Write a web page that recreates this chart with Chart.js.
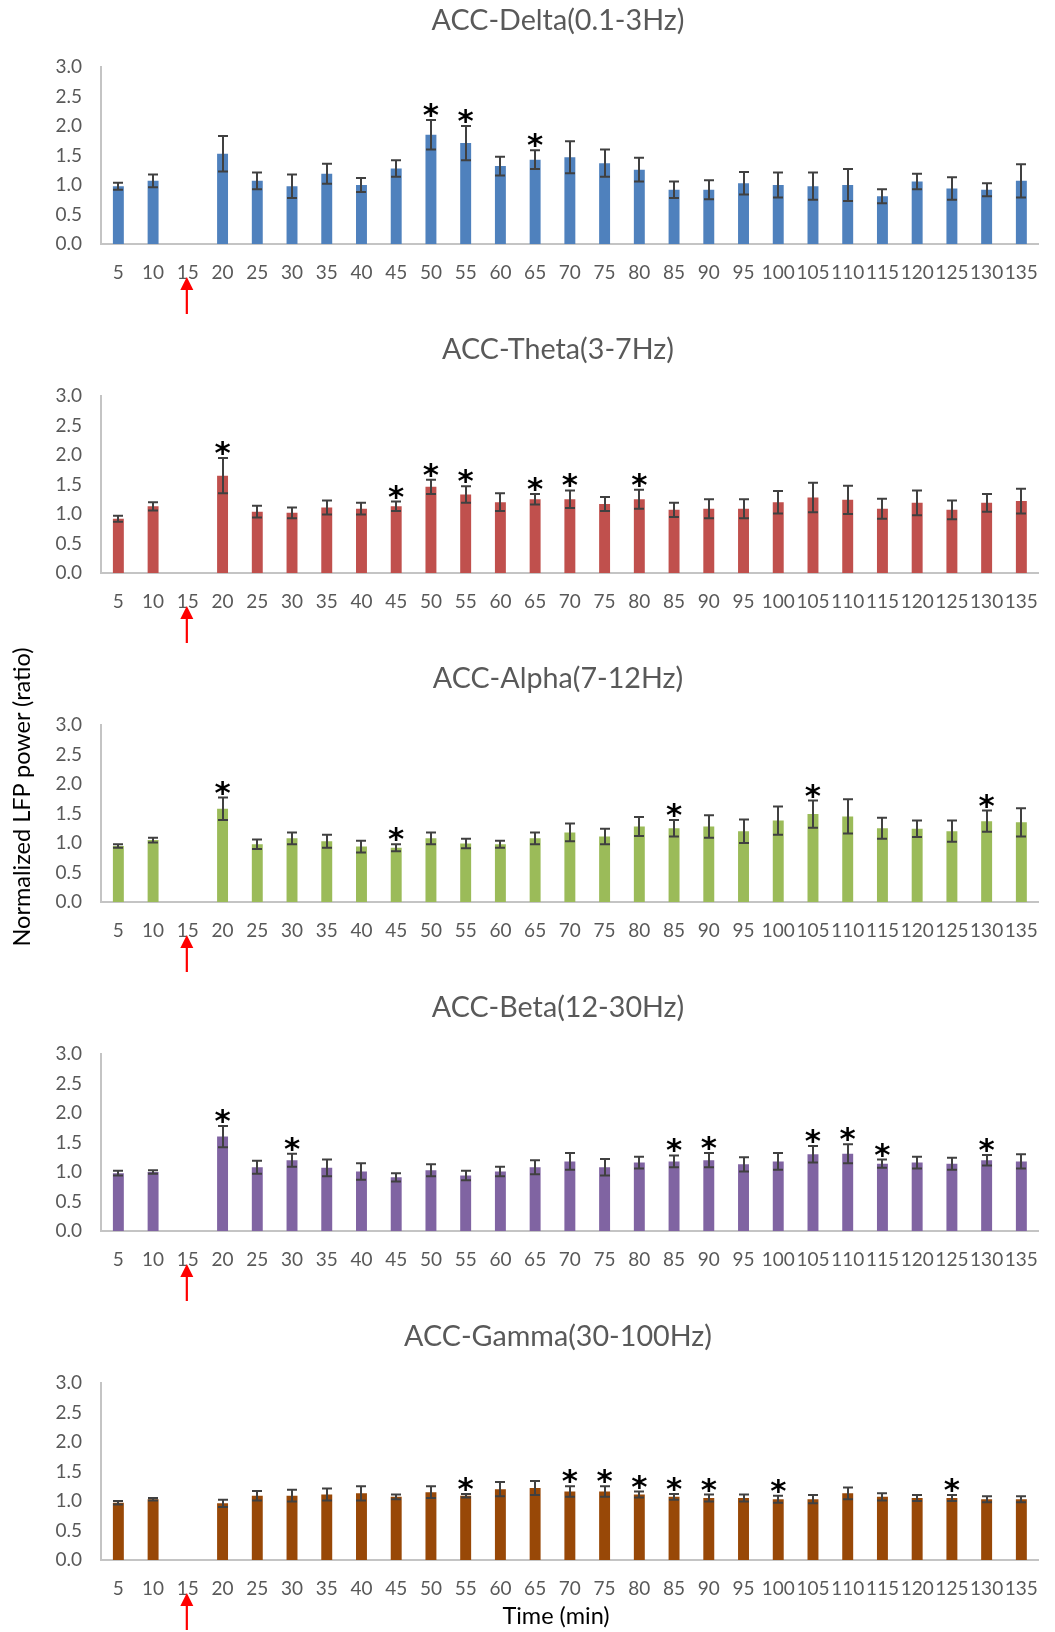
<!DOCTYPE html>
<html>
<head>
<meta charset="utf-8">
<script src="https://cdn.jsdelivr.net/npm/chart.js@4.4.1/dist/chart.umd.min.js"></script>
<style>
  html, body { margin:0; padding:0; background:#fff; width:1055px; height:1632px; overflow:hidden; }
  .panel { position:absolute; left:0; width:1055px; height:316px; }
  #ylab { position:absolute; left:-179px; top:785px; width:400px; height:24px; line-height:24px;
          text-align:center; transform:rotate(-90deg); font-family:Lato, sans-serif; font-size:23.5px;
          color:#000; white-space:nowrap; z-index:5; }
  #xlab { position:absolute; left:406px; top:1601px; width:300px; height:28px; line-height:28px;
          text-align:center; font-family:Lato, sans-serif; font-size:23.5px; color:#000;
          white-space:nowrap; z-index:5; }
</style>
</head>
<body>
<div class="panel" style="top:0px"><canvas id="c0" width="1055" height="316"></canvas></div>
<div class="panel" style="top:329px"><canvas id="c1" width="1055" height="316"></canvas></div>
<div class="panel" style="top:658px"><canvas id="c2" width="1055" height="316"></canvas></div>
<div class="panel" style="top:987px"><canvas id="c3" width="1055" height="316"></canvas></div>
<div class="panel" style="top:1316px"><canvas id="c4" width="1055" height="316"></canvas></div>
<div id="ylab">Normalized LFP power (ratio)</div>
<div id="xlab">Time (min)</div>
<script>
// ---------- data ----------
const timeLabels = ['5','10','15','20','25','30','35','40','45','50','55','60','65','70','75','80','85','90','95','100','105','110','115','120','125','130','135'];
const arrowAt = '15';

const deltaMean = [0.98,1.07,null,1.53,1.07,0.98,1.19,1.00,1.28,1.85,1.71,1.32,1.43,1.47,1.37,1.26,0.92,0.92,1.03,1.00,0.98,1.00,0.81,1.06,0.94,0.92,1.07];
const deltaErr  = [0.06,0.11,null,0.30,0.14,0.20,0.17,0.12,0.14,0.25,0.29,0.16,0.16,0.27,0.23,0.20,0.14,0.16,0.19,0.21,0.23,0.27,0.12,0.13,0.19,0.11,0.28];
const deltaSig  = ['50','55','65'];

const thetaMean = [0.92,1.13,null,1.65,1.04,1.02,1.11,1.09,1.13,1.46,1.33,1.20,1.25,1.25,1.17,1.25,1.07,1.09,1.09,1.20,1.28,1.24,1.09,1.19,1.07,1.19,1.22];
const thetaErr  = [0.05,0.07,null,0.30,0.10,0.09,0.12,0.10,0.08,0.12,0.14,0.15,0.09,0.15,0.12,0.16,0.12,0.16,0.16,0.19,0.25,0.24,0.17,0.21,0.16,0.15,0.21];
const thetaSig  = ['20','45','50','55','65','70','80'];

const alphaMean = [0.95,1.05,null,1.58,0.98,1.08,1.03,0.94,0.92,1.08,0.99,0.98,1.08,1.18,1.11,1.28,1.25,1.28,1.20,1.38,1.49,1.45,1.25,1.24,1.20,1.37,1.35];
const alphaErr  = [0.03,0.04,null,0.19,0.08,0.10,0.11,0.10,0.06,0.10,0.08,0.06,0.10,0.15,0.13,0.16,0.14,0.19,0.20,0.24,0.23,0.29,0.18,0.14,0.18,0.18,0.24];
const alphaSig  = ['20','45','85','105','130'];

const betaMean  = [0.98,1.00,null,1.60,1.08,1.20,1.07,1.01,0.91,1.03,0.94,1.01,1.08,1.18,1.08,1.16,1.18,1.20,1.13,1.18,1.30,1.31,1.14,1.16,1.14,1.20,1.18];
const betaErr   = [0.04,0.03,null,0.18,0.11,0.11,0.14,0.14,0.07,0.10,0.08,0.08,0.12,0.14,0.14,0.10,0.10,0.12,0.12,0.14,0.14,0.16,0.07,0.10,0.10,0.09,0.12];
const betaSig   = ['20','30','85','90','105','110','115','130'];

const gammaMean = [0.97,1.03,null,0.96,1.09,1.09,1.11,1.13,1.07,1.15,1.09,1.20,1.22,1.16,1.16,1.11,1.07,1.05,1.05,1.03,1.03,1.13,1.07,1.05,1.05,1.03,1.03];
const gammaErr  = [0.03,0.02,null,0.06,0.08,0.10,0.10,0.12,0.04,0.10,0.03,0.12,0.12,0.09,0.09,0.05,0.05,0.06,0.06,0.06,0.07,0.10,0.06,0.05,0.05,0.05,0.05];
const gammaSig  = ['55','70','75','80','85','90','100','125'];

const panelTitles = ['ACC-Delta(0.1-3Hz)','ACC-Theta(3-7Hz)','ACC-Alpha(7-12Hz)','ACC-Beta(12-30Hz)','ACC-Gamma(30-100Hz)'];
const panelColors = ['#4F81BD','#C0504D','#9BBB59','#8064A2','#984807'];
const yMin = 0, yMax = 3, yStep = 0.5;

// ---------- drawing ----------
const FONT = 'Lato, "Open Sans", sans-serif';
const STAR_FONT = 'bold 31px "DejaVu Sans", sans-serif';

const overlayPlugin = {
  id: 'overlay',
  afterDraw(chart, args, opts) {
    const ctx = chart.ctx;
    ctx.save();
    ctx.fillStyle = '#595959';
    ctx.font = '28.7px ' + FONT;
    ctx.textAlign = 'center';
    ctx.textBaseline = 'middle';
    ctx.fillText(opts.title, 558, 21);
    ctx.restore();
  },
  afterDatasetsDraw(chart, args, opts) {
    const ctx = chart.ctx;
    const y = chart.scales.y, x = chart.scales.x;
    const meta = chart.getDatasetMeta(0);
    const means = opts.means, errs = opts.errs;
    ctx.save();
    ctx.strokeStyle = '#404040';
    ctx.lineWidth = 2;
    means.forEach((m, i) => {
      if (m == null) return;
      const px = Math.round(meta.data[i].x);
      const yt = y.getPixelForValue(m + errs[i]);
      const yb = y.getPixelForValue(m - errs[i]);
      ctx.beginPath();
      ctx.moveTo(px, yt); ctx.lineTo(px, yb);
      ctx.moveTo(px - 5, yt); ctx.lineTo(px + 5, yt);
      ctx.moveTo(px - 5, yb); ctx.lineTo(px + 5, yb);
      ctx.stroke();
    });
    ctx.fillStyle = '#000';
    ctx.font = STAR_FONT;
    ctx.textAlign = 'center';
    ctx.textBaseline = 'alphabetic';
    const mt = ctx.measureText('*');
    opts.sig.forEach(lbl => {
      const i = chart.data.labels.indexOf(lbl);
      if (i < 0 || means[i] == null) return;
      const px = meta.data[i].x;
      const yt = y.getPixelForValue(means[i] + errs[i]);
      ctx.fillText('*', px, yt - 2 - mt.actualBoundingBoxDescent);
    });
    // red arrow under the injection time
    const ai = chart.data.labels.indexOf(opts.arrow);
    if (ai >= 0) {
      const ax = x.getPixelForValue(ai) - 1;
      const tip = chart.chartArea.bottom + 33;
      const tail = chart.chartArea.bottom + 70;
      ctx.fillStyle = '#FF0000';
      ctx.strokeStyle = '#FF0000';
      ctx.lineWidth = 2.2;
      ctx.beginPath();
      ctx.moveTo(ax, tip + 10); ctx.lineTo(ax, tail);
      ctx.stroke();
      ctx.beginPath();
      ctx.moveTo(ax, tip);
      ctx.lineTo(ax - 6.5, tip + 13);
      ctx.lineTo(ax + 6.5, tip + 13);
      ctx.closePath();
      ctx.fill();
    }
    ctx.restore();
  }
};

const panels = [
  { means: deltaMean, errs: deltaErr, sig: deltaSig },
  { means: thetaMean, errs: thetaErr, sig: thetaSig },
  { means: alphaMean, errs: alphaErr, sig: alphaSig },
  { means: betaMean,  errs: betaErr,  sig: betaSig  },
  { means: gammaMean, errs: gammaErr, sig: gammaSig }
];

panels.forEach((p, k) => {
  new Chart(document.getElementById('c' + k), {
    type: 'bar',
    data: {
      labels: timeLabels,
      datasets: [{
        data: p.means,
        backgroundColor: panelColors[k],
        borderWidth: 0,
        categoryPercentage: 1.0,
        barPercentage: 0.315
      }]
    },
    plugins: [overlayPlugin],
    options: {
      responsive: false,
      animation: false,
      events: [],
      layout: { padding: { left: 0, right: 6, top: 67, bottom: 0 } },
      plugins: {
        legend: { display: false },
        tooltip: { enabled: false },
        title: { display: false },
        overlay: { means: p.means, errs: p.errs, sig: p.sig, arrow: arrowAt, title: panelTitles[k] }
      },
      scales: {
        x: {
          grid: { display: false, drawTicks: false },
          border: { display: true, color: '#C4C4C4', width: 2 },
          ticks: { color: '#595959', font: { family: FONT, size: 19 }, padding: 17,
                   autoSkip: false, maxRotation: 0, minRotation: 0 },
          afterFit(scale) { scale.height = 72; }
        },
        y: {
          min: yMin, max: yMax,
          grid: { display: false, drawTicks: false },
          border: { display: true, color: '#C4C4C4', width: 2 },
          ticks: { stepSize: yStep, color: '#595959', font: { family: FONT, size: 19 }, padding: 19,
                   callback: v => Number(v).toFixed(1) },
          afterFit(scale) { scale.width = 101; }
        }
      }
    }
  });
});
</script>
</body>
</html>
